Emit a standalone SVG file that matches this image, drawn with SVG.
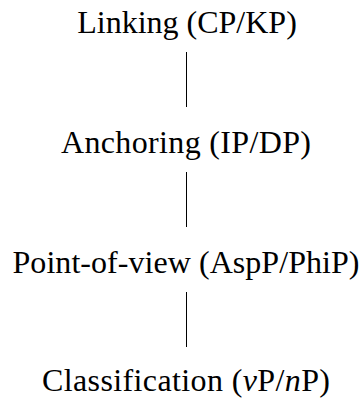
<svg xmlns="http://www.w3.org/2000/svg" width="363" height="398" viewBox="0 0 363 398">
<style>
text{font-family:"Liberation Serif","Times New Roman",serif;font-size:32px;fill:#000;text-anchor:middle}
.e{stroke:#000;stroke-width:1}
</style>
<rect width="363" height="398" fill="#fff"/>
<g id="edges">
<line class="e" x1="186.5" y1="52" x2="186.5" y2="107"/>
<line class="e" x1="186.5" y1="172" x2="186.5" y2="227"/>
<line class="e" x1="186.5" y1="292" x2="186.5" y2="347"/>
</g>
<g id="linking"><text x="187" y="33">Linking (CP/KP)</text></g>
<g id="anchoring"><text x="186" y="153" textLength="250" lengthAdjust="spacing">Anchoring (IP/DP)</text></g>
<g id="pov"><text x="186" y="273" textLength="347" lengthAdjust="spacing">Point-of-view (AspP/PhiP)</text></g>
<g id="classification"><text x="186" y="391" textLength="288" lengthAdjust="spacing">Classification (<tspan font-style="italic">v</tspan>P/<tspan font-style="italic">n</tspan>P)</text></g>
</svg>
